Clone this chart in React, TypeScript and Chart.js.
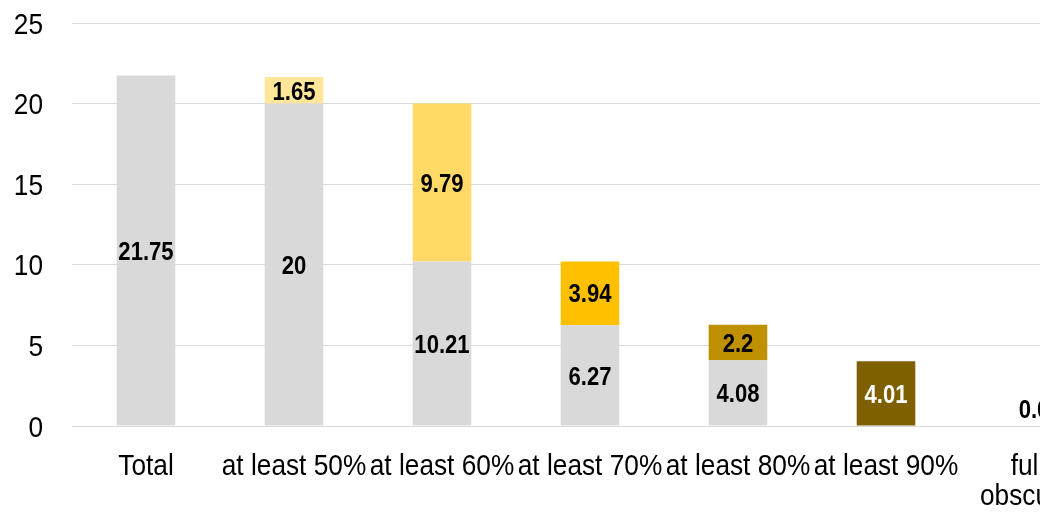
import React, { useEffect, useRef } from "react";
import { Chart, registerables } from "chart.js";

Chart.register(...registerables);

// Category labels along the x axis (one entry per line)
const categories: string[][] = [
  ["Total"],
  ["at least 50%"],
  ["at least 60%"],
  ["at least 70%"],
  ["at least 80%"],
  ["at least 90%"],
  ["fully", "obscured"],
];

// Grey base of each bar (null where no base is drawn)
const baseValues: (number | null)[] = [21.75, 20, 10.21, 6.27, 4.08, null, null];

// Coloured step stacked on top of the base
const stepValues: (number | null)[] = [null, 1.65, 9.79, 3.94, 2.2, 4.01, 0];

const baseColor = "#D9D9D9";
const stepColors = ["#FFE699", "#FFE699", "#FFD966", "#FFC000", "#BF9000", "#7F6000", "#3F3000"];
const stepLabelColors = ["#000", "#000", "#000", "#000", "#000", "#FFFFFF", "#000"];

const yTicks = [0, 5, 10, 15, 20, 25];

const FONT = "'Liberation Sans', Arial, sans-serif";

const fmt = (v: number) => (v === 0 ? "0.0" : String(v));

// Text drawn with a horizontal squeeze around its anchor point (narrow-face look)
function narrowText(
  ctx: CanvasRenderingContext2D,
  text: string,
  x: number,
  baseline: number,
  align: CanvasTextAlign,
  font: string,
  color: string,
  squeeze: number
) {
  ctx.save();
  ctx.font = font;
  ctx.fillStyle = color;
  ctx.textAlign = align;
  ctx.textBaseline = "alphabetic";
  ctx.translate(x, baseline);
  ctx.scale(squeeze, 1);
  ctx.fillText(text, 0, 0);
  ctx.restore();
}

// Axis tick labels
const axisLabels = {
  id: "axisLabels",
  afterDraw(chart: any) {
    const ctx = chart.ctx;
    const y = chart.scales.y;
    const x = chart.scales.x;
    const size = 29.5;
    const font = `${size}px ${FONT}`;
    yTicks.forEach((v) => {
      const py = y.getPixelForValue(v);
      narrowText(ctx, String(v), 43, py + 0.358 * size, "right", font, "#000", 0.89);
    });
    categories.forEach((lines, i) => {
      const px = x.getPixelForValue(i);
      lines.forEach((line, li) => {
        narrowText(ctx, line, px, chart.chartArea.bottom + 49 + li * 30, "center", font, "#000", 0.89);
      });
    });
  },
};

// Value of each segment centred inside it; tiny segments get the label just above
const valueLabels = {
  id: "valueLabels",
  afterDatasetsDraw(chart: any) {
    const ctx = chart.ctx;
    const size = 26;
    const font = `bold ${size}px ${FONT}`;
    chart.data.datasets.forEach((ds: any, di: number) => {
      const meta = chart.getDatasetMeta(di);
      meta.data.forEach((el: any, i: number) => {
        const v = ds.data[i];
        if (v === null || v === undefined) return;
        const h = Math.abs(el.base - el.y);
        const cy = h < 10 ? el.base - 17 : (el.y + el.base) / 2;
        const color = di === 0 ? "#000" : stepLabelColors[i];
        narrowText(ctx, fmt(v), el.x, cy + 0.358 * size, "center", font, color, 0.85);
      });
    });
  },
};

export default function App() {
  const ref = useRef<HTMLCanvasElement | null>(null);

  useEffect(() => {
    if (!ref.current) return;
    const chart = new Chart(ref.current, {
      type: "bar",
      data: {
        labels: categories,
        datasets: [
          {
            data: baseValues,
            backgroundColor: baseColor,
            barPercentage: 0.396,
            categoryPercentage: 1,
          },
          {
            data: stepValues,
            backgroundColor: stepColors,
            barPercentage: 0.396,
            categoryPercentage: 1,
          },
        ],
      },
      options: {
        responsive: false,
        animation: false,
        layout: { padding: { top: 23, left: 0, right: 12, bottom: 0 } },
        plugins: {
          legend: { display: false },
          tooltip: { enabled: false },
        },
        scales: {
          x: {
            stacked: true,
            grid: { display: false, drawTicks: false },
            border: { display: false },
            ticks: { display: false },
            afterFit: (s: any) => {
              s.height = 89;
            },
          },
          y: {
            stacked: true,
            min: 0,
            max: 25,
            afterBuildTicks: (s: any) => {
              s.ticks = yTicks.map((v) => ({ value: v }));
            },
            grid: { color: "#D9D9D9", lineWidth: 1, drawTicks: false },
            border: { display: false },
            ticks: { display: false },
            afterFit: (s: any) => {
              s.width = 72;
            },
          },
        },
      },
      plugins: [valueLabels, axisLabels],
    });
    return () => chart.destroy();
  }, []);

  return (
    <div
      style={{
        position: "fixed",
        left: 0,
        top: 0,
        width: 1040,
        height: 515,
        overflow: "hidden",
        background: "#fff",
      }}
    >
      <canvas ref={ref} width={1120} height={515} style={{ display: "block" }} />
    </div>
  );
}
